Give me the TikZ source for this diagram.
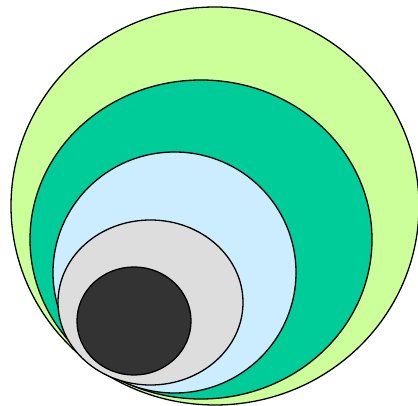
\documentclass[tikz,border=0pt]{standalone}
\definecolor{cOuter}{HTML}{CCFF99}
\definecolor{cTeal}{HTML}{00CC99}
\definecolor{cBlue}{HTML}{CCECFF}
\definecolor{cGray}{HTML}{DDDDDD}
\definecolor{cDark}{HTML}{333333}
\begin{document}
\begin{tikzpicture}[x=1pt,y=-1pt,
  ring/.style={draw=black,line width=1.3pt}]
\useasboundingbox (0,0) rectangle (418,406);
\begin{scope}
\clip (0,0) rectangle (418,406);
\path[ring,fill=cOuter] (215,206) ellipse [x radius=204,y radius=199];
\path[ring,fill=cTeal] (201,239.5) ellipse [x radius=171,y radius=159.5];
\path[ring,fill=cBlue] (174.5,272.5) ellipse [x radius=121.5,y radius=120.5];
\path[ring,fill=cGray] (150.5,302.5) ellipse [x radius=92.5,y radius=82.5];
\path[ring,fill=cDark] (134,321) ellipse [x radius=57,y radius=54];
\end{scope}
\end{tikzpicture}
\end{document}
